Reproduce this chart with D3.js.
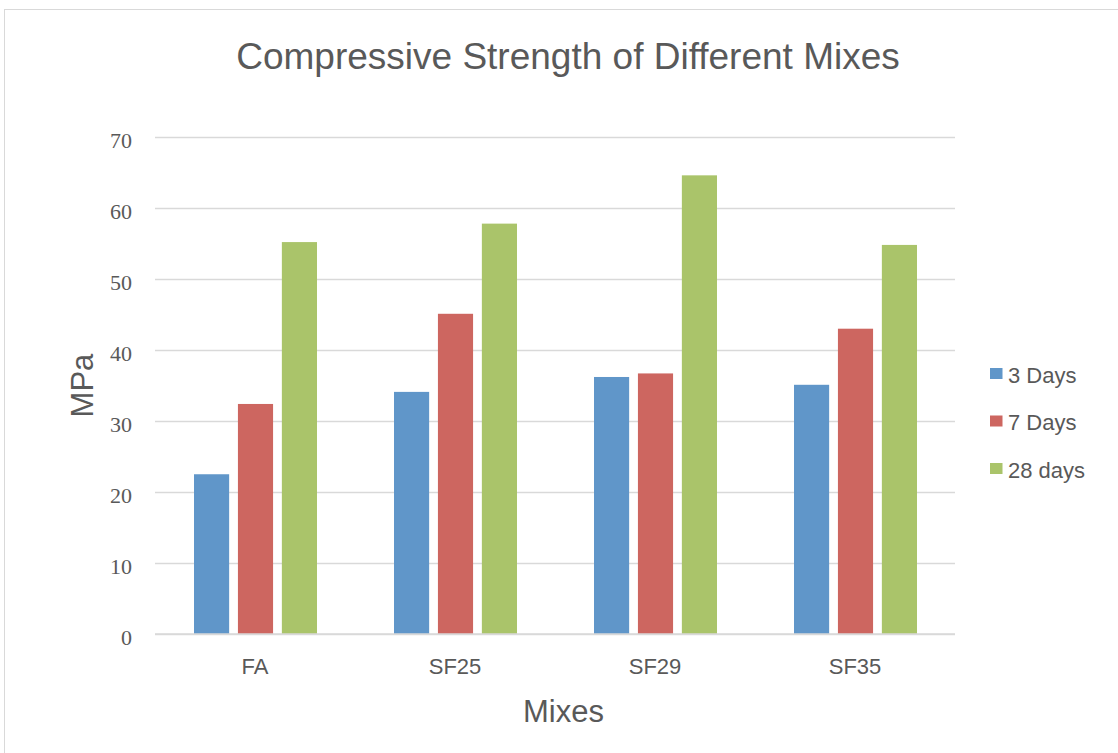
<!DOCTYPE html>
<html><head><meta charset="utf-8">
<script src="https://cdn.jsdelivr.net/npm/d3@7"></script>
<style>body{margin:0;background:#fff;}svg{display:block;}</style>
</head><body>
<svg id="c" width="1118" height="753"></svg>
<script>
const categories = ["FA", "SF25", "SF29", "SF35"];
const seriesNames = ["3 Days", "7 Days", "28 days"];
const days3 = [22.5, 34.1, 36.2, 35.1];
const days7 = [32.4, 45.1, 36.7, 43.0];
const days28 = [55.2, 57.8, 64.6, 54.8];
const yTicks = [0, 10, 20, 30, 40, 50, 60, 70];
const colors = ["#6096C9", "#CD6660", "#AAC46A"];

const series = [days3, days7, days28];
const svg = d3.select("#c");
svg.append("rect").attr("x", 4.5).attr("y", 9.5).attr("width", 1200).attr("height", 800)
  .attr("fill", "#fff").attr("stroke", "#D9D9D9").attr("stroke-width", 1);

const pL = 155, pR = 955, pT = 137, pB = 634;
const x0 = d3.scaleBand().domain(categories).range([pL, pR]).paddingInner(0).paddingOuter(0);
const x1 = d3.scaleBand().domain(d3.range(3)).range([39, 162]).paddingInner(0.2);
const y = d3.scaleLinear().domain([0, 70]).range([pB, pT]);

const ga = svg.append("g").attr("transform", `translate(${pL},0)`)
  .call(d3.axisLeft(y).tickValues(yTicks).tickSize(-(pR - pL)).tickPadding(23).tickFormat(d3.format("d")));
ga.select(".domain").remove();
ga.selectAll(".tick line").attr("stroke", "#D9D9D9").attr("stroke-width", 1.5);
ga.selectAll(".tick text").attr("fill", "#595959").attr("dy", "0.48em")
  .style("font-family", "'Liberation Serif', serif").style("font-size", "22px");

const gx = svg.append("g").attr("transform", `translate(0,${pB})`)
  .call(d3.axisBottom(x0).tickSize(0).tickPadding(24));
gx.select(".domain").remove();
gx.selectAll(".tick text").attr("fill", "#595959").style("font-family", "'Liberation Sans', Arial, sans-serif").style("font-size", "22px");

const groups = svg.append("g").selectAll("g").data(categories).join("g")
  .attr("transform", d => `translate(${x0(d)},0)`);
groups.selectAll("rect").data((c, i) => series.map((s, k) => ({k, v: s[i]}))).join("rect")
  .attr("x", d => x1(d.k)).attr("width", x1.bandwidth())
  .attr("y", d => y(d.v)).attr("height", d => y(0) - y(d.v))
  .attr("fill", d => colors[d.k]);

svg.append("line").attr("x1", pL).attr("x2", pR).attr("y1", y(0)).attr("y2", y(0))
  .attr("stroke", "#D9D9D9").attr("stroke-width", 1.5);

svg.append("text").attr("x", 568).attr("y", 69).attr("text-anchor", "middle")
  .attr("fill", "#595959").style("font-family", "'Liberation Sans', Arial, sans-serif").style("font-size", "37px")
  .text("Compressive Strength of Different Mixes");
svg.append("text").attr("x", 563.5).attr("y", 722).attr("text-anchor", "middle")
  .attr("fill", "#595959").style("font-family", "'Liberation Sans', Arial, sans-serif").style("font-size", "31px")
  .text("Mixes");
svg.append("text").attr("transform", "translate(93,385.5) rotate(-90)").attr("text-anchor", "middle")
  .attr("fill", "#595959").style("font-family", "'Liberation Sans', Arial, sans-serif").style("font-size", "31px")
  .text("MPa");

const lg = svg.append("g").selectAll("g").data(seriesNames).join("g")
  .attr("transform", (d, i) => `translate(990,${368 + i * 47.5})`);
lg.append("rect").attr("width", 12.5).attr("height", 11).attr("fill", (d, i) => colors[i]);
lg.append("text").attr("x", 18).attr("y", 14.5).attr("fill", "#595959")
  .style("font-family", "'Liberation Sans', Arial, sans-serif").style("font-size", "22px").text(d => d);
</script>
</body></html>
